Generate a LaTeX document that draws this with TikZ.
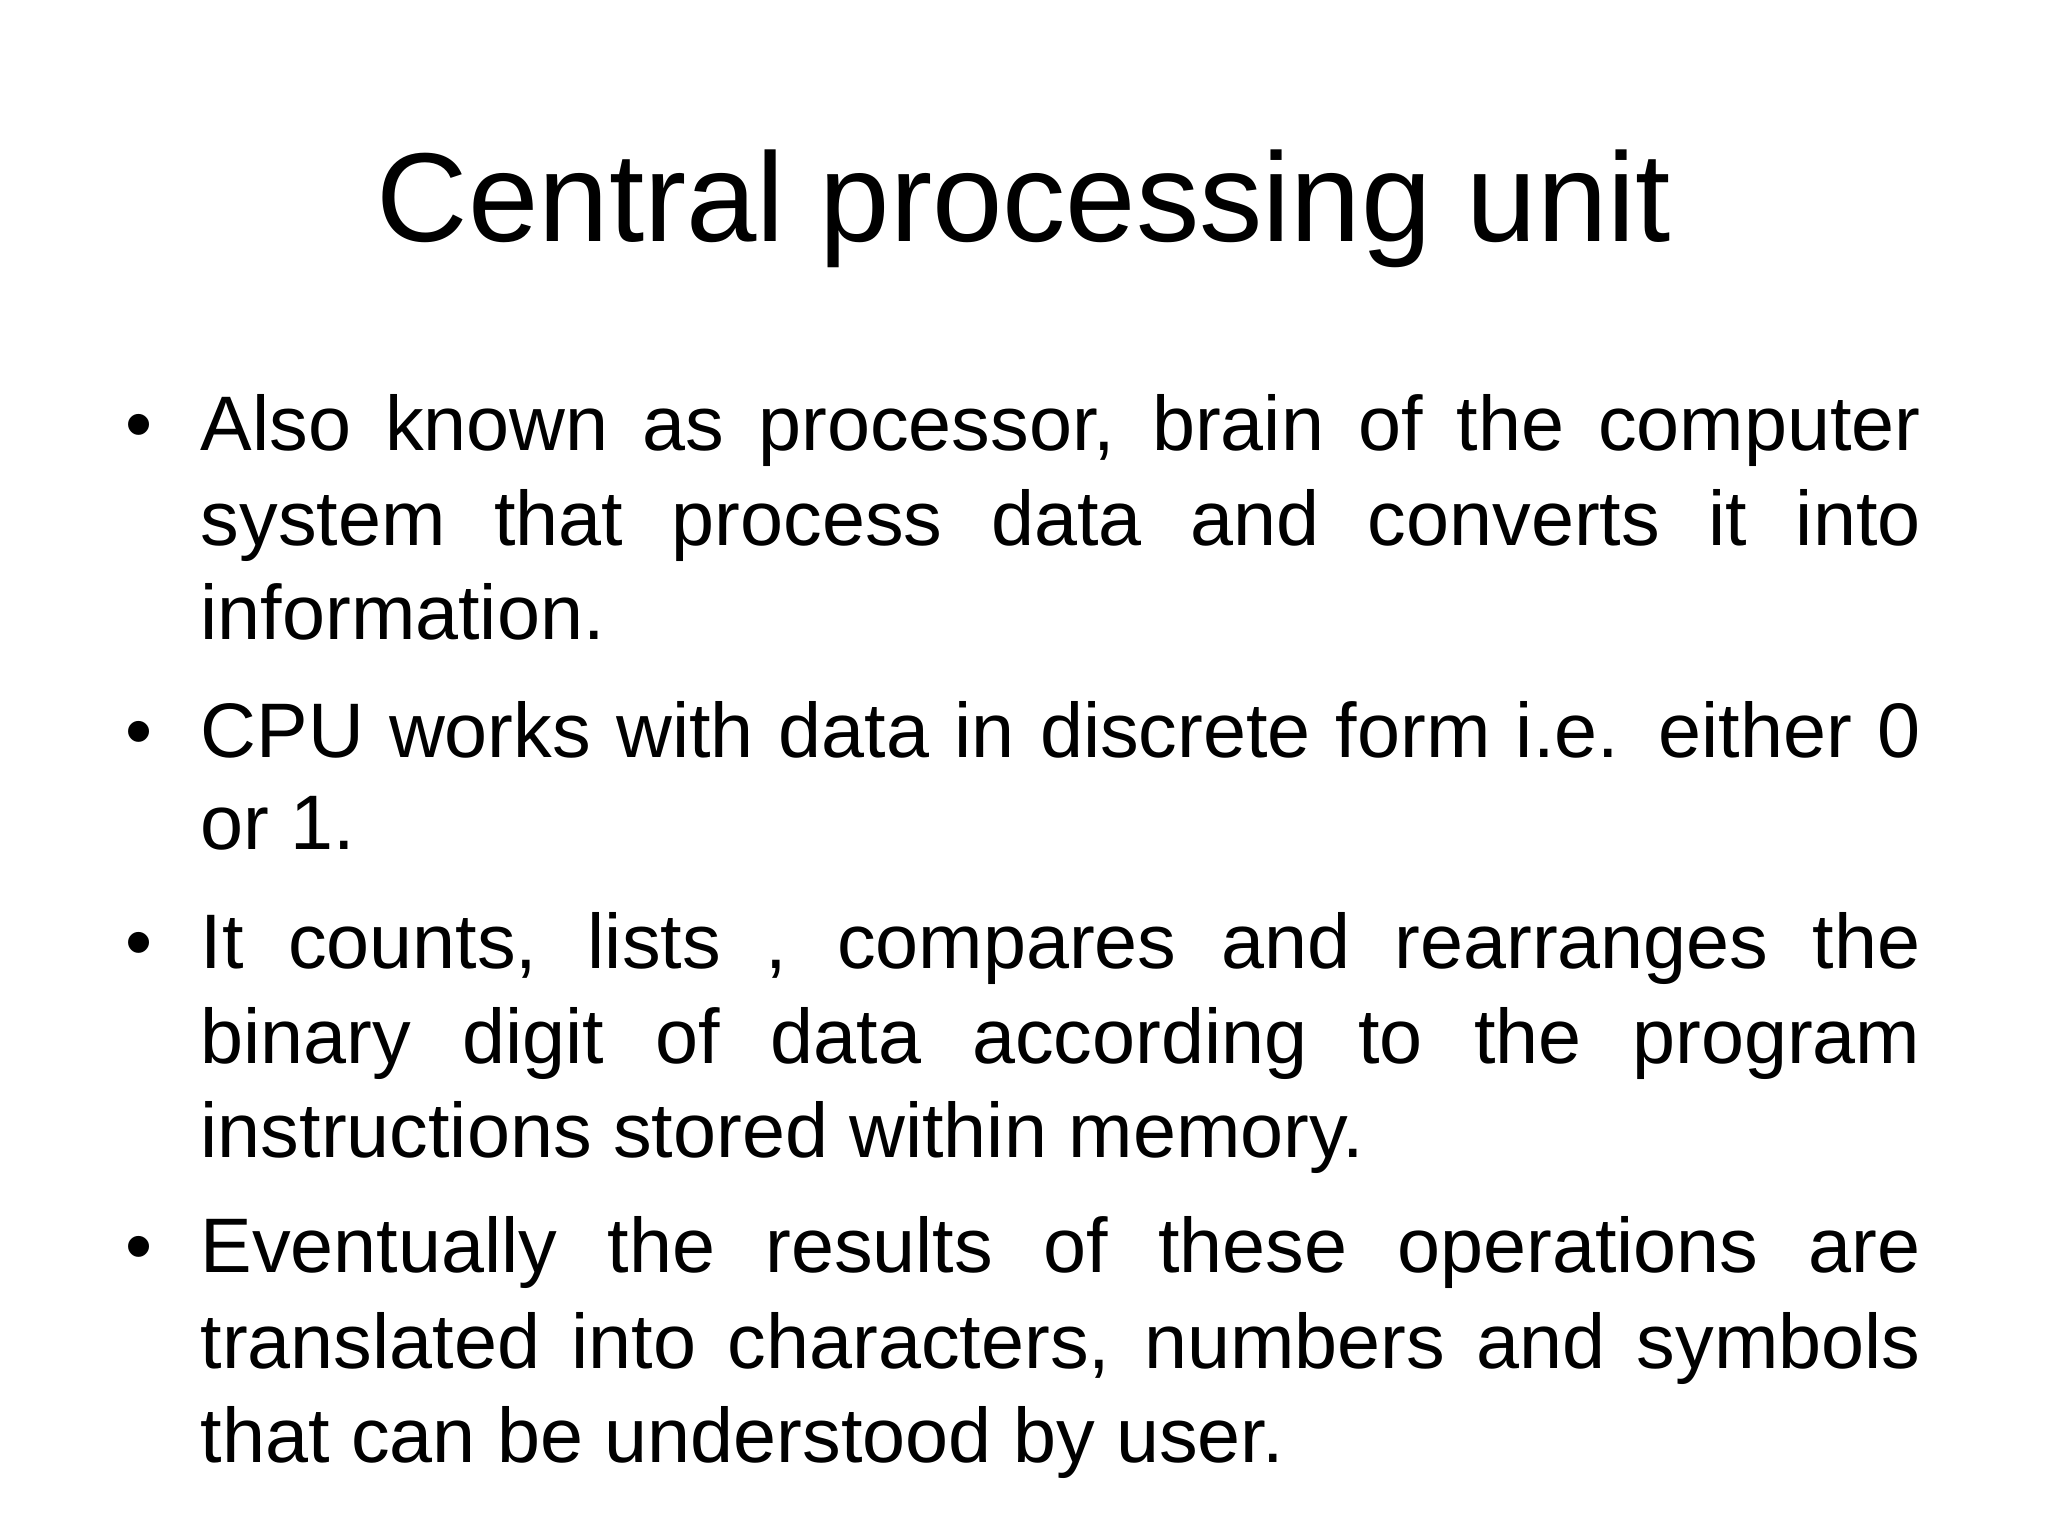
\documentclass[tikz,border=0pt]{standalone}
\usepackage{fontspec}
\setmainfont{Liberation Sans}
\newcommand{\bodyfull}[3]{\node[bl] (#1) at (2.0,#2) {\makebox[17.2cm][s]{#3}};}
\newcommand{\bodylast}[3]{\node[bl] (#1) at (2.0,#2) {#3};}
\newcommand{\bodybullet}[2]{\node[bl] (#1) at (1.25,#2) {\textbullet};}
\begin{document}
\begin{tikzpicture}[bl/.style={anchor=base west,inner sep=0pt,font=\fontsize{22}{26}\selectfont}]
\useasboundingbox (0,0) rectangle (20.48,15.36);
\fill[white] (0,0) rectangle (20.48,15.36);
\node[anchor=base,inner sep=0pt,font=\fontsize{36}{42}\selectfont] (title) at (10.24,12.94) {Central processing unit};
\bodybullet{b1}{10.85}
\bodyfull{l1}{10.85}{Also known as processor, brain of the computer}
\bodyfull{l2}{9.90}{system that process data and converts it into}
\bodylast{l3}{8.96}{information.}
\bodybullet{b2}{7.78}
\bodyfull{l4}{7.78}{CPU works with data in discrete form i.e. either 0}
\bodylast{l5}{6.86}{or 1.}
\bodybullet{b3}{5.67}
\bodyfull{l6}{5.67}{It counts, lists , compares and rearranges the}
\bodyfull{l7}{4.72}{binary digit of data according to the program}
\bodylast{l8}{3.78}{instructions stored within memory.}
\bodybullet{b4}{2.63}
\bodyfull{l9}{2.63}{Eventually the results of these operations are}
\bodyfull{l10}{1.67}{translated into characters, numbers and symbols}
\bodylast{l11}{0.73}{that can be understood by user.}
\end{tikzpicture}
\end{document}
